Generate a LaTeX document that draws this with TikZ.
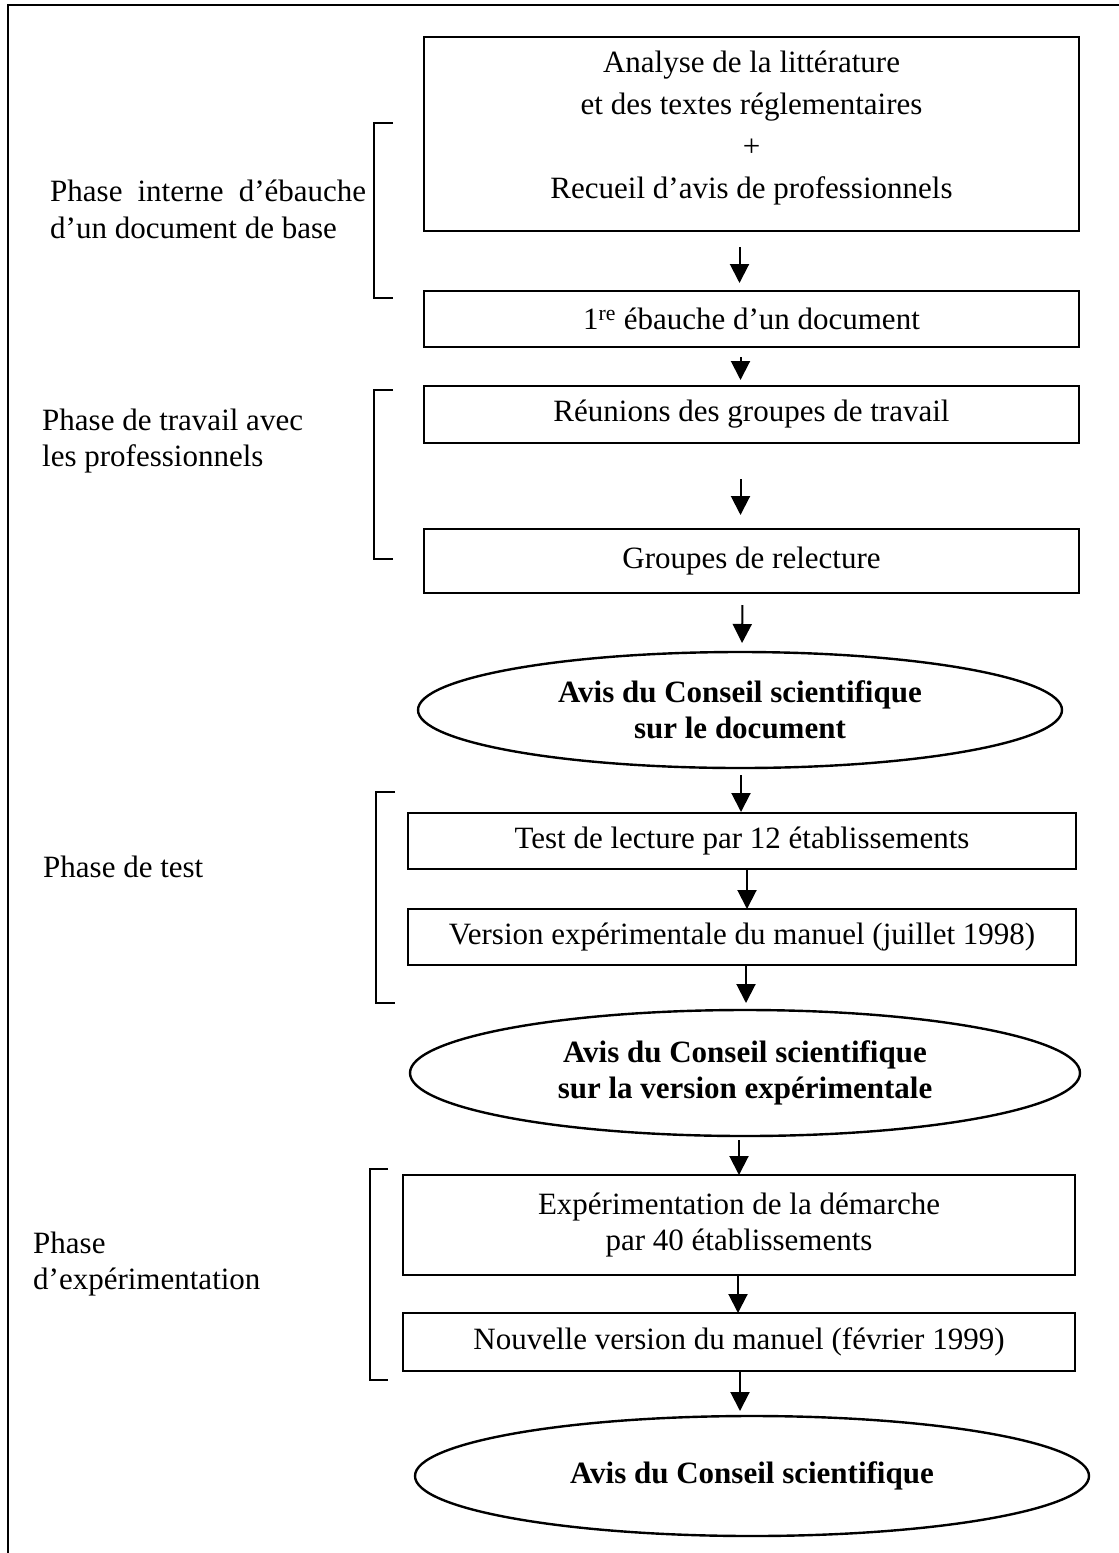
\documentclass[tikz,border=0pt]{standalone}
\usepackage{fontspec}
\setmainfont{Liberation Serif}
\usetikzlibrary{shapes.geometric,arrows.meta}
\tikzset{
  boxn/.style={draw, line width=2pt, inner sep=0pt, outer sep=0pt, align=center},
  elln/.style={draw, ellipse, line width=2.4pt, inner sep=0pt, outer sep=0pt, align=center, font=\fontsize{31}{36}\selectfont\bfseries},
  lbl/.style={anchor=west, inner sep=0pt, align=left},
  arr/.style={line width=2pt, -{Triangle[length=19pt,width=19pt]}},
  brk/.style={line width=2pt},
}
\begin{document}
\begin{tikzpicture}[x=1pt,y=-1pt, font=\fontsize{31}{36}\selectfont]
\useasboundingbox (0,0) rectangle (1119,1553);
% frame
\draw[line width=2.6pt] (1119,5) -- (8,5) -- (8,1553);
% boxes
\node[boxn, minimum width=655pt, minimum height=194pt, font=\fontsize{31}{42}\selectfont] (b1) at (751.5,134)
  {Analyse de la littérature\\et des textes réglementaires\\+\\Recueil d’avis de professionnels\\[-24pt]};
\node[boxn, minimum width=655pt, minimum height=56pt] (b2) at (751.5,319)
  {1\textsuperscript{re} ébauche d’un document};
\node[boxn, minimum width=655pt, minimum height=57pt] (b3) at (751.5,414.5)
  {Réunions des groupes de travail};
\node[boxn, minimum width=655pt, minimum height=64pt] (b4) at (751.5,561)
  {Groupes de relecture};
\node[elln, minimum width=644pt, minimum height=116pt] (e1) at (740,710)
  {Avis du Conseil scientifique\\sur le document};
\node[boxn, minimum width=668pt, minimum height=56pt] (b5) at (742,841)
  {Test de lecture par 12 établissements};
\node[boxn, minimum width=668pt, minimum height=56pt] (b6) at (742,937)
  {Version expérimentale du manuel (juillet 1998)};
\node[elln, minimum width=670pt, minimum height=126pt] (e2) at (745,1073)
  {Avis du Conseil scientifique\\sur la version expérimentale};
\node[boxn, minimum width=672pt, minimum height=100pt] (b7) at (739,1225)
  {Expérimentation de la démarche\\par 40 établissements};
\node[boxn, minimum width=672pt, minimum height=58pt] (b8) at (739,1342)
  {Nouvelle version du manuel (février 1999)};
\node[elln, minimum width=674pt, minimum height=120pt] (e3) at (752,1476)
  {Avis du Conseil scientifique};
% arrows
\draw[arr, shorten <=16pt, shorten >=8pt] ([xshift=-12pt]b1.south) -- ([xshift=-12pt]b2.north);
\draw[arr, shorten <=10pt, shorten >=6pt] ([xshift=-11pt]b2.south) -- ([xshift=-11pt]b3.north);
\draw[arr, shorten <=36pt, shorten >=14pt] ([xshift=-11pt]b3.south) -- ([xshift=-11pt]b4.north);
\draw[arr, shorten <=12pt, shorten >=9pt] ([xshift=-9pt]b4.south) -- ([xshift=2pt]e1.north);
\draw[arr, shorten <=7pt, shorten >=1pt] ([xshift=1pt]e1.south) -- ([xshift=-1pt]b5.north);
\draw[arr] ([xshift=5pt]b5.south) -- ([xshift=5pt]b6.north);
\draw[arr, shorten >=7pt] ([xshift=4pt]b6.south) -- ([xshift=1pt]e2.north);
\draw[arr, shorten <=4pt] ([xshift=-6pt]e2.south) -- ([xshift=0pt]b7.north);
\draw[arr] ([xshift=-1pt]b7.south) -- ([xshift=-1pt]b8.north);
\draw[arr, shorten >=5pt] ([xshift=1pt]b8.south) -- ([xshift=-12pt]e3.north);
% brackets
\draw[brk] (393,123) -- (374,123) -- (374,298) -- (393,298);
\draw[brk] (393,390) -- (374,390) -- (374,559) -- (393,559);
\draw[brk] (395,792) -- (376,792) -- (376,1003) -- (395,1003);
\draw[brk] (388,1169) -- (370,1169) -- (370,1380) -- (388,1380);
% labels
\node[lbl, font=\fontsize{31}{37}\selectfont] (l1) at (50,209) {\makebox[316pt][s]{Phase interne d’ébauche}\\d’un document de base};
\node[lbl] (l2) at (42,441) {Phase de travail avec\\les professionnels};
\node[lbl] (l3) at (43,867) {Phase de test};
\node[lbl] (l4) at (33,1264) {Phase\\d’expérimentation};
\end{tikzpicture}
\end{document}
